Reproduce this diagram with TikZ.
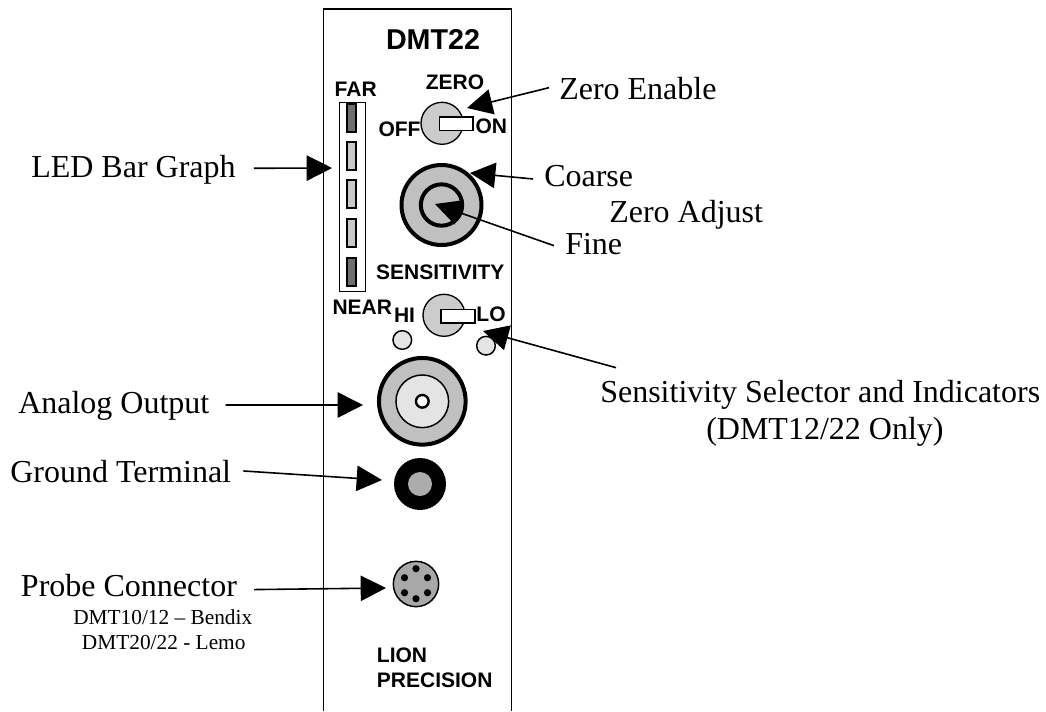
\documentclass[tikz,border=0pt]{standalone}
\usepackage{fontspec}
\setmainfont{Liberation Serif}
\newfontfamily\panelfont{Liberation Sans}
\usepackage{tikz}
\usetikzlibrary{arrows.meta}
\definecolor{discgray}{HTML}{CCCCCC}
\definecolor{ledgray}{HTML}{C8C8C8}
\definecolor{leddark}{HTML}{6E6E6E}
\definecolor{knobgray}{HTML}{C0C0C0}
\definecolor{coregray}{HTML}{E4E4E4}
\definecolor{pingray}{HTML}{A8A8A8}
\tikzstyle{callout} = [anchor=base west, inner sep=0pt, text height=16pt, text depth=5pt, font=\fontsize{24}{28}\selectfont]
\tikzstyle{smallnote} = [anchor=base west, inner sep=0pt, font=\fontsize{16}{18}\selectfont]
\tikzstyle{paneltext} = [inner sep=0pt, font=\panelfont\bfseries\fontsize{15.75}{18}\selectfont]
\tikzstyle{led} = [rectangle, minimum width=6.6pt, minimum height=21pt, inner sep=0pt, draw=black, line width=1.5pt]
\tikzstyle{disc} = [circle, minimum size=31.5pt, inner sep=0pt, draw=black, line width=1pt, fill=discgray]
\tikzstyle{slider} = [rectangle, minimum height=10pt, inner sep=0pt, draw=black, line width=1.2pt, fill=white]
\tikzstyle{lamp} = [circle, minimum size=14pt, inner sep=0pt, draw=black, line width=1.1pt, fill=coregray]
\tikzstyle{pin} = [circle, minimum size=5.4pt, inner sep=0pt, fill=black]
\tikzstyle{arrow} = [line width=1.2pt, -{Triangle[length=19pt,width=19pt]}]
\begin{document}
\begin{tikzpicture}[x=0.75pt, y=-0.75pt]
    \useasboundingbox (0,0) rectangle (1046,711);
    % panel outline
    \draw [line width=1.4pt] (323.5,711) -- (323.5,9) -- (511.5,9) -- (511.5,711);
    % panel lettering
    \node (title) [paneltext, font=\panelfont\bfseries\fontsize{21.5}{24}\selectfont] at (433,39) {DMT22};
    \node (far) [paneltext] at (355.7,89) {FAR};
    \node (zero) [paneltext] at (455,82.7) {ZERO};
    \node (off) [paneltext] at (399.5,129) {OFF};
    \node (on) [paneltext] at (491.3,126.7) {ON};
    \node (sensitivity) [paneltext] at (440.3,272.3) {SENSITIVITY};
    \node (near) [paneltext] at (362.3,307.3) {NEAR};
    \node (hi) [paneltext] at (404.5,315) {HI};
    \node (lo) [paneltext] at (491,314.7) {LO};
    \node (lion) [paneltext, anchor=west] at (376.7,655) {LION};
    \node (precision) [paneltext, anchor=west] at (376.7,680.7) {PRECISION};
    % bar graph
    \node (bar) [rectangle, minimum width=19.5pt, minimum height=142pt, inner sep=0pt, draw=black, line width=1.2pt] at (352.5,197) {};
    \node (led1) [led, fill=leddark] at (351.3,117.5) {};
    \node (led2) [led, fill=ledgray] at (351.3,156) {};
    \node (led3) [led, fill=ledgray] at (351.3,194) {};
    \node (led4) [led, fill=ledgray] at (351.3,232.5) {};
    \node (led5) [led, fill=leddark] at (351.3,271.5) {};
    % zero switch
    \node (zerodisc) [disc] at (442,123.3) {};
    \node (zeroslider) [slider, minimum width=25pt] at (456.3,123.8) {};
    % zero adjust knob
    \node (coarse) [circle, minimum size=60pt, inner sep=0pt, draw=black, line width=3pt, fill=knobgray] at (441.5,205) {};
    \node (fineknob) [circle, minimum size=31pt, inner sep=0pt, draw=black, line width=3pt, fill=knobgray] at (441.5,205) {};
    % sensitivity switch
    \node (sensdisc) [disc] at (444,315.3) {};
    \node (sensslider) [slider, minimum width=25.5pt] at (458.2,316.2) {};
    \node (hilamp) [lamp] at (402.3,340) {};
    \node (lolamp) [lamp] at (486,345.7) {};
    % analog output
    \node (bnc) [circle, minimum size=65pt, inner sep=0pt, draw=black, line width=3pt, fill=knobgray] at (422.3,401.3) {};
    \node (bnccore) [circle, minimum size=39.5pt, inner sep=0pt, draw=black, line width=1.1pt, fill=coregray] at (422.3,401.3) {};
    \node (bncpin) [circle, minimum size=9.5pt, inner sep=0pt, draw=black, line width=1.8pt, fill=white] at (422.3,401.3) {};
    % ground terminal
    \node (ground) [circle, minimum size=39pt, inner sep=0pt, fill=black] at (420,484) {};
    \node (groundcore) [circle, minimum size=18pt, inner sep=0pt, fill=pingray!95!white] at (420,484) {};
    % probe connector
    \node (probe) [circle, minimum size=34pt, inner sep=0pt, draw=black, line width=1.1pt, fill=pingray] at (416,584) {};
    \foreach \pinx/\piny [count=\n] in {416/568.7, 404.5/577.7, 427.5/577.7, 404.5/592.7, 427.5/592.7, 416/598.7}
        \node (pin\n) [pin] at (\pinx,\piny) {};
    % callouts
    \node (ledlabel) [callout] at (31,177) {LED Bar Graph};
    \node (zeroenable) [callout] at (559,99) {Zero Enable};
    \node (coarselabel) [callout] at (544,186.7) {Coarse};
    \node (zeroadjust) [callout] at (609,222) {Zero Adjust};
    \node (finelabel) [callout] at (565,254) {Fine};
    \node (selector) [callout] at (600,402.7) {Sensitivity Selector and Indicators};
    \node (only) [callout] at (706,439) {(DMT12/22 Only)};
    \node (analog) [callout] at (18,413) {Analog Output};
    \node (groundlabel) [callout] at (10,482.7) {Ground Terminal};
    \node (probelabel) [callout] at (20.7,596.7) {Probe Connector};
    \node (bendix) [smallnote] at (73,624) {DMT10/12 – Bendix};
    \node (lemo) [smallnote] at (81.7,649) {DMT20/22 - Lemo};
    % arrow tips
    \coordinate (ledtip) at (332,168);
    \coordinate (zerotip) at (467,108);
    \coordinate (coarsetip) at (470,173);
    \coordinate (finetip) at (435,204);
    \coordinate (senstip) at (483,331);
    \coordinate (analogtip) at (363,405);
    \coordinate (groundtip) at (382,480);
    \coordinate (probetip) at (386,588);
    \draw [arrow] ([shift={(18,-1.4)}]ledlabel.east) -- (ledtip);
    \draw [arrow] ([shift={(-10,-4)}]zeroenable.west) -- (zerotip);
    \draw [arrow] ([shift={(-11,-0.4)}]coarselabel.west) -- (coarsetip);
    \draw [arrow] ([shift={(-11,-1)}]finelabel.west) -- (finetip);
    \draw [arrow] ([shift={(16,-27.7)}]selector.west) -- (senstip);
    \draw [arrow] ([shift={(16,-0.7)}]analog.east) -- (analogtip);
    \draw [arrow] ([shift={(12,-4.4)}]groundlabel.east) -- (groundtip);
    \draw [arrow] ([shift={(17,0.2)}]probelabel.east) -- (probetip);
\end{tikzpicture}
\end{document}
